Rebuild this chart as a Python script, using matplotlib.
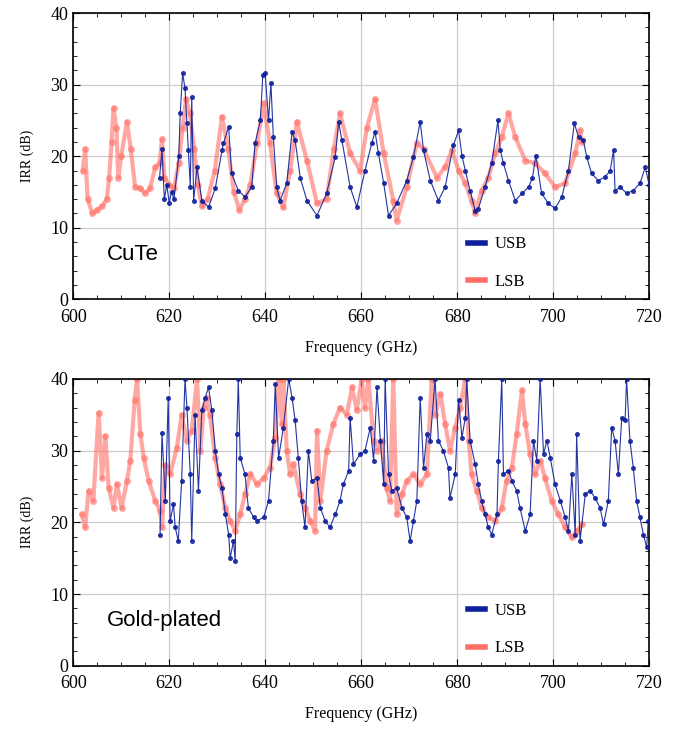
import matplotlib.pyplot as plt
from matplotlib.ticker import MultipleLocator

# ---- CuTe horn, USB ----
cute_usb_f = [618, 618.5, 619, 619.5, 620, 620.5, 621, 622, 622.3, 622.8, 623.3, 623.7, 624, 624.4,
              624.7, 625.1, 625.8, 626.8, 628.2, 629.6, 631, 631.3, 632.4, 633, 634.4, 635.8, 637.2,
              637.9, 639, 639.5, 640, 640.7, 641.2, 641.7, 642.4, 643.1, 644.5, 645.6, 646.25, 647.3,
              648.7, 650.8, 652.8, 654.6, 655.3, 656, 657.7, 659.1, 660.8, 662.2, 662.9, 663.6, 664.7,
              665.7, 667.4, 669.5, 670.9, 672.3, 673, 674.4, 676.1, 677.5, 679.2, 680.3, 681, 681.7,
              682.7, 683.75, 684.4, 685.8, 687.2, 688.5, 689, 689.65, 690.7, 692.1, 693.5, 694.9, 695.7,
              696.4, 697.6, 699, 700.4, 701.8, 703.2, 704.4, 705.3, 706.3, 707, 708, 709.4, 710.8, 711.9,
              712.6, 712.9, 714, 715.3, 716.7, 718.1, 719.2, 720]
cute_usb_v = [17, 21, 14, 16, 13.5, 15, 14, 20, 26, 31.6, 29.5, 24.6, 20.8, 15.7,
              28.3, 13.8, 18.5, 13.8, 12.9, 15.5, 20.8, 21.8, 24.1, 17.6, 15.2, 14.3, 15.7,
              21.8, 25, 31.3, 31.6, 25, 30.2, 22.7, 15.7, 13.8, 16.2, 23.4, 22.2, 17,
              13.8, 11.7, 14.8, 19.9, 24.8, 22.2, 15.7, 12.9, 18, 21.8, 23.4, 20.4, 16.2,
              11.7, 13.4, 16.6, 19.9, 24.8, 20.8, 16.6, 13.8, 15.7, 21.5, 23.6, 20.1, 18,
              15.2, 12.4, 12.6, 15.7, 19, 25, 20.8, 19, 16.6, 13.8, 14.8, 15.7, 17,
              20.1, 14.8, 13.4, 12.7, 14.3, 18, 24.6, 22.7, 22.2, 19.9, 17.6, 16.6, 17.1, 18,
              20.9, 15.2, 15.7, 14.8, 15.2, 16.2, 18.5, 16]

# ---- CuTe horn, LSB ----
cute_lsb_f = [602, 602.5, 603, 604, 605, 606, 607, 607.5, 608, 608.4, 609, 609.4, 610, 611.2, 612,
              612.9, 614, 615, 616, 617.1, 618, 618.5, 619, 620, 621, 622, 622.8, 623.5, 624.3, 625.2,
              626, 626.8, 628, 629.5, 631, 632.3, 633.5, 634.6, 635.8, 636.9, 638.3, 639.7, 641,
              642.4, 643.8, 645.2, 646.6, 648.7, 650.8, 652.8, 654.3, 655.6, 657.7, 659.8, 661.2,
              662.9, 664.7, 666.7, 667.4, 669.5, 671.6, 673, 675.8, 677.5, 678.9, 680.3, 681.7,
              683, 683.75, 685.1, 686.5, 687.9, 689.3, 690.7, 692.1, 694.2, 696.25, 698.3, 700.4,
              702.5, 704.6, 705.6, 706]
cute_lsb_v = [18, 21, 14, 12, 12.5, 13, 14, 17, 22, 26.7, 24, 17, 20, 24.8, 21,
              15.7, 15.5, 14.8, 15.5, 18.5, 19, 22.4, 17, 16, 15.5, 19, 24, 28, 26, 21,
              16, 13, 14, 18, 25.5, 21, 15, 12.5, 14, 16, 21.8, 27.4, 21.8,
              14.8, 12.9, 18, 24.8, 19.4, 13.4, 14, 21, 26, 20.4, 18, 24,
              28, 20.4, 13.8, 11, 15.7, 21.8, 21, 17, 18.5, 20.8, 18, 16.2,
              13.8, 12, 15.2, 17, 20.4, 22.7, 26, 22.7, 19.4, 19, 17.6, 15.7,
              16.2, 20.4, 23.6, 22]

# ---- Gold-plated horn, USB ----
gold_usb_f = [618.1, 618.5, 619.2, 619.8, 620.2, 620.9, 621.25, 621.9, 622.6, 623.3, 623.7, 624.4,
              624.7, 625.4, 626.1, 626.8, 627.5, 628.2, 628.9, 629.6, 630.3, 631, 631.7, 632.4, 632.7,
              633.4, 633.75, 634.1, 634.4, 634.8, 635.8, 636.5, 637.6, 638.3, 639.7, 640.7, 641.7,
              642.1, 642.8, 643.8, 644.9, 645.6, 646.25, 646.9, 647.6, 648.3, 649, 649.7, 650.8,
              651.5, 652.5, 653.5, 654.6, 655.6, 656.3, 657.4, 657.7, 658.4, 659.8, 660.8, 661.9,
              662.6, 663.3, 664, 664.7, 665, 665.7, 666.4, 667.4, 668.5, 669.5, 670.2, 670.9, 671.6,
              672.3, 673, 673.7, 674.4, 675.4, 676.1, 677.1, 678.2, 678.5, 679.6, 680.3, 681, 681.7,
              682, 682.7, 683.75, 684.4, 685.1, 685.8, 686.5, 687.2, 688.3, 688.6, 689.3, 689.65,
              690.7, 691.4, 692.4, 693.1, 694.2, 695.2, 695.9, 696.6, 697.3, 698, 698.7, 699.4,
              700.4, 701.5, 702.5, 703.2, 703.9, 704.6, 704.9, 705.6, 706.7, 707.7, 708.75, 709.8,
              710.5, 711.5, 712.2, 712.9, 713.6, 714.3, 715, 715.3, 716, 716.7, 717.4, 718.1, 718.8,
              719.5, 719.8]
gold_usb_v = [18.3, 32.5, 23, 37.4, 20.2, 22.5, 19.3, 17.4, 25.8, 40, 36, 26.7,
              17.4, 35, 24.4, 35.6, 37.4, 38.8, 35.6, 30, 26.7, 24.8, 21.1, 18.3, 15,
              17.4, 14.6, 32.3, 40, 29, 26.7, 22, 20.7, 20.2, 20.7, 23, 31.4,
              39.3, 29, 33.2, 40, 37.4, 34.2, 29, 23, 19.3, 30, 25.8, 26.2,
              22, 20.2, 19.3, 21.1, 23, 25.3, 27.2, 34.6, 28.1, 29.5, 30, 33.2,
              28.6, 38.8, 31.4, 25.3, 40, 26.7, 24.4, 24.8, 22, 20.7, 17.4, 20.2, 23,
              37.4, 27.6, 32.3, 31.4, 40, 31.4, 30, 27.6, 23.4, 26.7, 37, 31.8, 34.6,
              40, 31.4, 28.1, 25.3, 23, 21.1, 19.3, 18.3, 21.1, 28.6, 40, 26.7,
              27.2, 25.8, 24.4, 22, 18.8, 21.1, 31.4, 28.6, 40, 29.5, 31.4, 29,
              25.3, 23, 20.7, 18.8, 26.7, 18.3, 32.3, 17.4, 23.9, 24.4, 23.4, 22,
              19.7, 23, 33.2, 31.4, 26.7, 34.6, 34.2, 40, 31.4, 27.6, 23, 20.7, 18.3,
              16.5, 20.2]

# ---- Gold-plated horn, LSB ----
gold_lsb_f = [601.8, 602.5, 603.2, 604.2, 605.3, 606, 606.7, 607.4, 608.4, 609.1, 610.1, 611.2,
              611.9, 612.8, 613.3, 614, 614.7, 615.7, 617.1, 618.1, 618.5, 619.2, 620.2, 621.6,
              622.6, 623.7, 624.7, 625.8, 626.5, 627.2, 627.8, 628.5, 629.6, 630.6, 631.7, 632.7,
              633.75, 634.8, 635.8, 636.9, 638.3, 639.7, 641, 642.1, 642.8, 643.5, 643.8, 644.5,
              645.2, 645.9, 647.3, 648.3, 649.4, 650.4, 650.8, 651.5, 652.8, 654.2, 655.6, 657,
              658.1, 659.1, 660.1, 660.8, 661.5, 662.6, 663.3, 664.3, 665.3, 666, 666.7, 667.4,
              668.5, 669.5, 670.9, 672.3, 673.7, 674.7, 675.4, 676.5, 677.5, 678.5, 679.6, 680.6,
              681.7, 682.4, 683, 684.1, 685.1, 686.5, 687.9, 689.3, 690.3, 691.4, 692.4, 693.5,
              694.2, 695.2, 696.25, 697.3, 698.3, 699.7, 701.1, 702.5, 703.9, 704.9, 706]
gold_lsb_v = [21.1, 19.3, 24.4, 23, 35.3, 26.2, 32, 24.8, 22, 25.3, 22, 25.8,
              28.6, 37, 40, 32.3, 29, 25.8, 23, 21.6, 19.3, 28, 26.7, 30.4,
              35, 31.4, 32.8, 40, 30, 36, 37.4, 35, 29, 25.3, 22, 20.2,
              18.8, 21.1, 23.9, 26.7, 25.3, 26.2, 27.6, 31.8, 40, 33.7, 40, 30,
              26.7, 28.1, 23.9, 22, 20.2, 18.8, 32.8, 23, 30, 33.7, 36, 35,
              38.8, 35.6, 40, 36, 40, 31.4, 30, 31.4, 24.8, 23, 40, 21.1,
              23.9, 25.8, 26.7, 25.3, 26.7, 40, 35, 37.9, 33.7, 30, 33.2, 36,
              40, 31.4, 26.7, 24.4, 22, 20.7, 20.2, 22, 25.8, 27.6, 32.3, 38.4,
              33.7, 29.5, 26.7, 28.6, 26.2, 23, 21.1, 19.3, 17.9, 18.8, 19.7]

usb_color = '#0d1f9a'
lsb_color = '#ff6f66'

plt.rcParams['font.family'] = ['Liberation Serif', 'DejaVu Serif']

fig = plt.figure(figsize=(6.84, 7.30), dpi=100)
ax1 = fig.add_axes([0.107, 0.590, 0.842, 0.392])
ax2 = fig.add_axes([0.107, 0.088, 0.842, 0.393])

panels = [(ax1, cute_usb_f, cute_usb_v, cute_lsb_f, cute_lsb_v, 'CuTe'),
          (ax2, gold_usb_f, gold_usb_v, gold_lsb_f, gold_lsb_v, 'Gold-plated')]

for ax, uf, uv, lf, lv, name in panels:
    ax.plot(lf, lv, '-o', color=lsb_color, lw=3, ms=5, mew=0, alpha=0.6, label='LSB', zorder=2)
    ax.plot(uf, uv, '-o', color=usb_color, lw=0.8, ms=3.6, mew=0, alpha=0.9, label='USB', zorder=3)
    ax.set_xlim(600, 720)
    ax.set_ylim(0, 40)
    ax.xaxis.set_major_locator(MultipleLocator(20))
    ax.xaxis.set_minor_locator(MultipleLocator(5))
    ax.yaxis.set_major_locator(MultipleLocator(10))
    ax.yaxis.set_minor_locator(MultipleLocator(2))
    ax.tick_params(which='both', direction='in', top=True, right=True, labelsize=13)
    ax.tick_params(axis='x', which='major', pad=7)
    ax.tick_params(which='major', length=5)
    ax.tick_params(which='minor', length=3)
    ax.grid(True, which='major', color='#cccccc', lw=0.9)
    ax.set_axisbelow(True)
    ax.set_xlabel('Frequency (GHz)', fontsize=11.5, labelpad=10)
    ax.set_ylabel('IRR (dB)', fontsize=10, labelpad=12)
    for s in ax.spines.values():
        s.set_linewidth(1.2)
    ax.text(607, 5.5, name, family=['Liberation Sans', 'DejaVu Sans'], fontsize=16)
    h, l = ax.get_legend_handles_labels()
    leg = ax.legend(h[::-1], l[::-1], loc='lower left', bbox_to_anchor=(0.66, -0.02),
                    frameon=False, fontsize=12, handlelength=1.0, labelspacing=1.3,
                    handletextpad=0.6)
    for lh in leg.get_lines():
        lh.set_marker('')
        lh.set_linewidth(4)
        lh.set_alpha(1)

fig.savefig('out.png', dpi=100)
